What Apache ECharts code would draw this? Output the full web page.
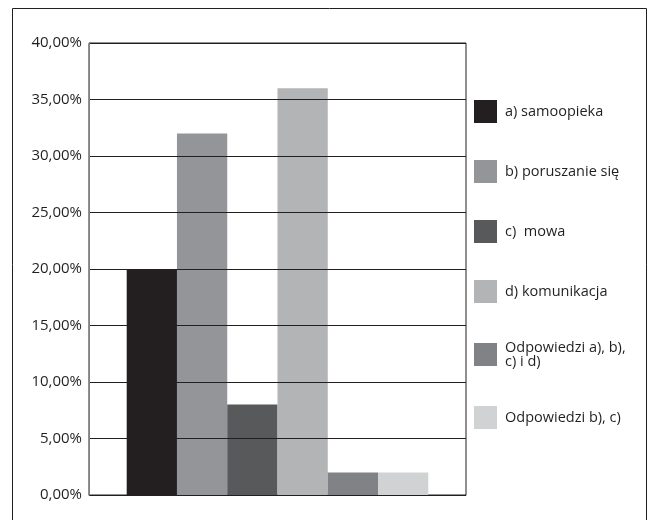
<!DOCTYPE html>
<html>
<head>
<meta charset="utf-8">
<script src="https://cdn.jsdelivr.net/npm/echarts@6/dist/echarts.min.js"></script>
<style>
  html, body { margin: 0; padding: 0; background: #fff; }
  #chart { width: 651px; height: 520px; }
</style>
</head>
<body>
<div id="chart"></div>
<script>
// Answer categories and their shares (percent)
const seriesNames = [
  'a) samoopieka',
  'b) poruszanie się',
  'c)  mowa',
  'd) komunikacja',
  'Odpowiedzi a), b),\nc) i d)',
  'Odpowiedzi b), c)'
];
const seriesValues = [20, 32, 8, 36, 2, 2];
const seriesColors = ['#231f20', '#939598', '#58595b', '#b3b4b6', '#808285', '#d1d2d4'];
const yTicks = [0, 5, 10, 15, 20, 25, 30, 35, 40];

const FONT = '"Open Sans", sans-serif';
const chart = echarts.init(document.getElementById('chart'));

const series = seriesNames.map((name, i) => ({
  name: name,
  type: 'bar',
  data: [seriesValues[i]],
  barGap: '0%',
  barCategoryGap: '20%',
  itemStyle: { color: seriesColors[i] },
  z: 2
}));

chart.setOption({
  animation: false,
  backgroundColor: '#ffffff',
  textStyle: { fontFamily: FONT },
  graphic: [{
    type: 'rect',
    shape: { x: 12.5, y: 8.5, width: 634, height: 520 },
    style: { fill: 'none', stroke: '#231f20', lineWidth: 1 },
    silent: true
  }],
  grid: {
    left: 89, right: 185, top: 43, bottom: 25,
    show: true, borderColor: '#231f20', borderWidth: 1, backgroundColor: 'transparent'
  },
  legend: {
    orient: 'vertical',
    left: 474,
    top: 100,
    padding: 0,
    itemWidth: 23,
    itemHeight: 23,
    itemGap: 37,
    icon: 'rect',
    data: seriesNames,
    textStyle: {
      fontFamily: FONT, fontSize: 14.5, color: '#231f20',
      lineHeight: 14, height: 23, verticalAlign: 'middle',
      padding: [0, 0, 0, 3]
    }
  },
  xAxis: {
    type: 'category',
    data: [''],
    axisLine: { show: true, lineStyle: { color: '#939598', width: 1 } },
    axisTick: { show: false },
    axisLabel: { show: false }
  },
  yAxis: {
    type: 'value',
    min: yTicks[0],
    max: yTicks[yTicks.length - 1],
    interval: 5,
    z: 3,
    axisLine: { show: true, lineStyle: { color: '#808285', width: 1 } },
    axisTick: { show: false },
    axisLabel: {
      margin: 7,
      fontFamily: FONT, fontSize: 15, color: '#231f20',
      formatter: v => v.toFixed(2).replace('.', ',') + '%'
    },
    splitLine: { show: true, lineStyle: { color: '#231f20', width: 1 } }
  },
  series: series
});
</script>
</body>
</html>
